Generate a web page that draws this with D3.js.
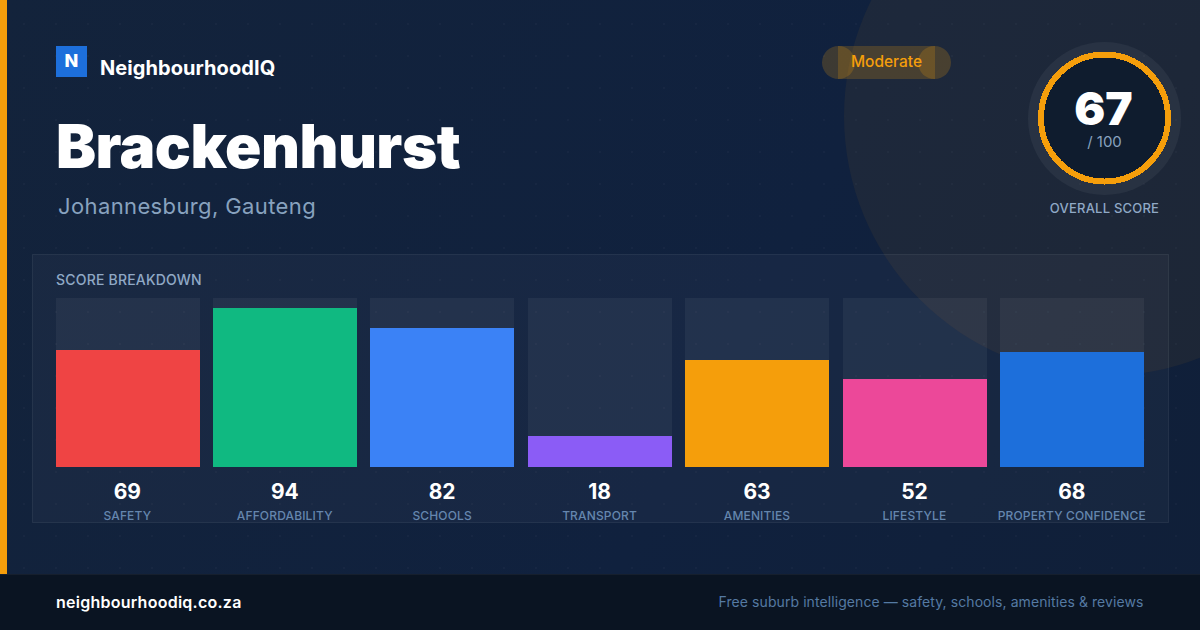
<!DOCTYPE html>
<html><head><meta charset="utf-8">
<script src="https://cdnjs.cloudflare.com/ajax/libs/d3/7.8.5/d3.min.js"></script>
<style>html,body{margin:0;padding:0;background:#0f2040;overflow:hidden}svg{display:block;font-family:Inter,sans-serif}</style>
</head><body><div id="c"></div>
<script>
const categories=["SAFETY","AFFORDABILITY","SCHOOLS","TRANSPORT","AMENITIES","LIFESTYLE","PROPERTY CONFIDENCE"];
const scores=[69,94,82,18,63,52,68];
const barColors=["#ef4444","#10b981","#3b82f6","#8b5cf6","#f59e0b","#ec4899","#1d6fdb"];
const overall=67;
const W=1200,H=630;
const svg=d3.select("#c").append("svg").attr("width",W).attr("height",H);
const defs=svg.append("defs");
const g=defs.append("linearGradient").attr("id","bg").attr("gradientUnits","userSpaceOnUse").attr("x1",0).attr("y1",0).attr("x2",1200).attr("y2",630);
g.append("stop").attr("offset",0).attr("stop-color","#13233b");
g.append("stop").attr("offset",.6).attr("stop-color","#10213e");
g.append("stop").attr("offset",1).attr("stop-color","#101f38");
const pat=defs.append("pattern").attr("id","dots").attr("width",32).attr("height",32).attr("patternUnits","userSpaceOnUse");
pat.append("circle").attr("cx",24).attr("cy",24).attr("r",1).attr("fill","#fff").attr("fill-opacity",.03);

svg.append("rect").attr("width",W).attr("height",H).attr("fill","url(#bg)");
svg.append("circle").attr("cx",1104).attr("cy",116).attr("r",260).attr("fill","#f59e0b").attr("fill-opacity",.06);
svg.append("rect").attr("width",W).attr("height",H).attr("fill","url(#dots)");
svg.append("rect").attr("x",0).attr("y",0).attr("width",7).attr("height",574).attr("fill","#f59e0b");

// brand
svg.append("rect").attr("x",56).attr("y",46).attr("width",31).attr("height",31).attr("fill","#1d6fdb");
svg.append("text").attr("x",71.5).attr("y",67).attr("text-anchor","middle").attr("fill","#fff").attr("font-size",18).attr("font-weight",800).text("N");
svg.append("text").attr("x",100).attr("y",75).attr("fill","#fff").attr("font-size",20).attr("font-weight",700).attr("letter-spacing",.07).text("NeighbourhoodIQ");
svg.append("text").attr("x",56).attr("y",168).attr("fill","#fff").attr("font-size",60).attr("font-weight",900).attr("letter-spacing",-.5).text("Brackenhurst");
svg.append("text").attr("x",58).attr("y",214).attr("fill","#88a2bf").attr("font-size",22).attr("letter-spacing",.38).text("Johannesburg, Gauteng");

// pill
const pill=svg.append("g").attr("fill","#f59e0b").attr("fill-opacity",.2);
pill.append("rect").attr("x",838).attr("y",46).attr("width",97).attr("height",33);
pill.append("circle").attr("cx",838.5).attr("cy",62.5).attr("r",16.5);
pill.append("circle").attr("cx",934.5).attr("cy",62.5).attr("r",16.5);
svg.append("text").attr("x",886.5).attr("y",67).attr("text-anchor","middle").attr("fill","#f59e0b").attr("font-size",15.5).attr("font-weight",500).text("Moderate");

// gauge
svg.append("circle").attr("cx",1104.5).attr("cy",118.5).attr("r",76.5).attr("fill","#fff").attr("fill-opacity",.05);
svg.append("circle").attr("cx",1104.5).attr("cy",118).attr("r",63.5).attr("fill","#0f1c2e").attr("stroke","#f59e0b").attr("stroke-width",6).attr("shape-rendering","crispEdges");
svg.append("text").attr("x",1103.5).attr("y",125).attr("text-anchor","middle").attr("fill","#fff").attr("font-size",46).attr("font-weight",900).text(overall);
svg.append("text").attr("x",1104.5).attr("y",147).attr("text-anchor","middle").attr("fill","#88a2bf").attr("font-size",15).text("/ 100");
svg.append("text").attr("x",1104.5).attr("y",213).attr("text-anchor","middle").attr("fill","#90a9c6").attr("font-size",13).attr("font-weight",500).attr("letter-spacing",.22).text("OVERALL SCORE");

// panel
svg.append("rect").attr("x",32.5).attr("y",254.5).attr("width",1136).attr("height",268).attr("fill","#fff").attr("fill-opacity",.03).attr("stroke","#fff").attr("stroke-opacity",.07);
svg.append("text").attr("x",56).attr("y",285).attr("fill","#90a9c6").attr("font-size",14).attr("font-weight",500).attr("letter-spacing",.2).text("SCORE BREAKDOWN");

const x=d3.scaleBand().domain(categories).range([55.6,1144.12]).paddingInner(13.42/157.42);
const y=d3.scaleLinear().domain([0,100]).range([466.8,297.8]);
const cols=svg.append("g").selectAll("g").data(categories).join("g");
cols.append("rect").attr("x",d=>x(d)).attr("y",y(100)).attr("width",x.bandwidth()).attr("height",y(0)-y(100)).attr("fill","#fff").attr("fill-opacity",.05).attr("shape-rendering","crispEdges");
cols.append("rect").attr("x",d=>x(d)).attr("y",(d,i)=>y(scores[i])).attr("width",x.bandwidth()).attr("height",(d,i)=>y(0)-y(scores[i])).attr("fill",(d,i)=>barColors[i]).attr("shape-rendering","crispEdges");
cols.append("text").attr("x",d=>x(d)+x.bandwidth()/2-.3).attr("y",499).attr("text-anchor","middle").attr("fill","#fff").attr("font-size",21).attr("font-weight",700).attr("letter-spacing",-.1).text((d,i)=>scores[i]);
cols.append("text").attr("x",d=>x(d)+x.bandwidth()/2-.3).attr("y",520).attr("text-anchor","middle").attr("fill","#6586ae").attr("font-size",12).attr("font-weight",500).attr("letter-spacing",.15).text(d=>d);

// footer
svg.append("rect").attr("x",0).attr("y",574).attr("width",W).attr("height",56).attr("fill","#0a1422");
svg.append("rect").attr("x",0).attr("y",574).attr("width",W).attr("height",1).attr("fill","#fff").attr("fill-opacity",.05);
svg.append("text").attr("x",56).attr("y",608).attr("fill","#fff").attr("font-size",16).attr("font-weight",600).attr("letter-spacing",.25).text("neighbourhoodiq.co.za");
svg.append("text").attr("x",1143.5).attr("y",607).attr("text-anchor","end").attr("fill","#557aa3").attr("font-size",14).attr("letter-spacing",.08).text("Free suburb intelligence — safety, schools, amenities & reviews");
</script></body></html>
